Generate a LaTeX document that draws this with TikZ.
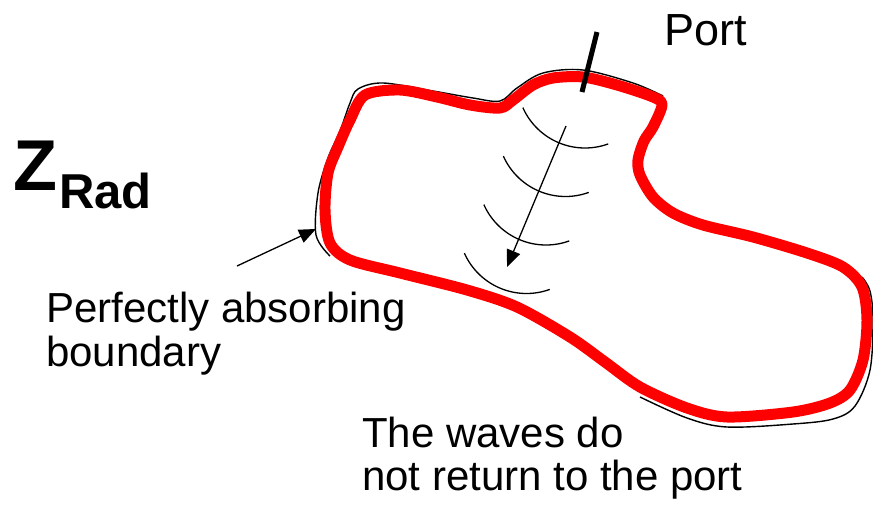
\documentclass[tikz,border=0pt]{standalone}
\usepackage{fontspec}
\setmainfont{Liberation Sans}
\usetikzlibrary{arrows.meta}
\tikzset{
  lbl/.style={inner sep=0pt, outer sep=0pt, anchor=base west, align=left},
  redwall/.style={draw=red, line width=11pt, line join=round},
  blackrim/.style={draw=black, line width=1.4pt, line join=round},
  pointer/.style={draw=black, line width=1.3pt, -{Triangle[length=17pt,width=14pt]}},
  wave/.style={draw=black, line width=1.3pt},
  porttick/.style={draw=black, line width=5pt}
}
\begin{document}
\begin{tikzpicture}[x=1pt,y=-1pt]
\useasboundingbox (0,0) rectangle (873,504);

% black outer rims
\draw[blackrim] plot[smooth, tension=0.55] coordinates {
 (330,256) (316,235) (318,193) (328,158) (340,131) (350,103) (358,89) (383,83)
 (433,91) (473,98) (500,101) (517,88) (543,73) (583,70) (633,83) (663,96)};
\draw[blackrim] plot[smooth, tension=0.55] coordinates {
 (862,277) (870,291) (873,320) (870,370) (855,406) (833,419) (793,424) (727,427) (687,418) (640,397)};

% red boundary
\draw[redwall] plot[smooth cycle, tension=0.5] coordinates {
 (365,95) (400,90) (437,97) (470,105) (500,108) (513,100) (533,85) (553,78)
 (583,77) (617,85) (653,97) (662,105) (653,127) (644,141) (638,160) (640,175)
 (653,197) (673,213) (703,225) (753,237) (807,253) (843,267) (862,287)
 (867,320) (863,360) (850,390) (830,403) (793,412) (727,417) (687,408)
 (640,387) (605,362) (570,337) (517,307) (467,290) (400,273) (350,260)
 (330,243) (325,210) (328,173) (338,147) (350,120)};

% port
\coordinate (pt1) at (597,32);
\coordinate (pt2) at (582,92);
\draw[porttick] (pt1) -- (pt2);

% waves
\foreach \k in {0,1,2,3}{
  \draw[wave] plot[domain=70:156, samples=40]
    ({585-19.5*\k+68*cos(\x)},{80+48.5*\k+68*sin(\x)});
}
\coordinate (ws) at (566,126);
\coordinate (we) at (507,267);
\draw[pointer] (ws) -- (we);

% boundary pointer
\coordinate (bt) at (237,266);
\coordinate (bh) at (316,229);
\draw[pointer] (bt) -- (bh);

% labels
\node[lbl, font=\fontsize{72}{72}\selectfont\bfseries] (zrad) at (13,190) {Z};
\node[lbl, font=\fontsize{49}{49}\selectfont\bfseries] (rad) at (59,208) {Rad};
\node[lbl, font=\fontsize{45}{45}\selectfont] (port) at (664,45) {Port};
\node[lbl, font=\fontsize{42}{44}\selectfont] (pab) at (46,366) {Perfectly absorbing\\boundary};
\node[lbl, font=\fontsize{42}{43}\selectfont] (waves) at (362,490) {The waves do\\not return to the port};
\end{tikzpicture}
\end{document}
